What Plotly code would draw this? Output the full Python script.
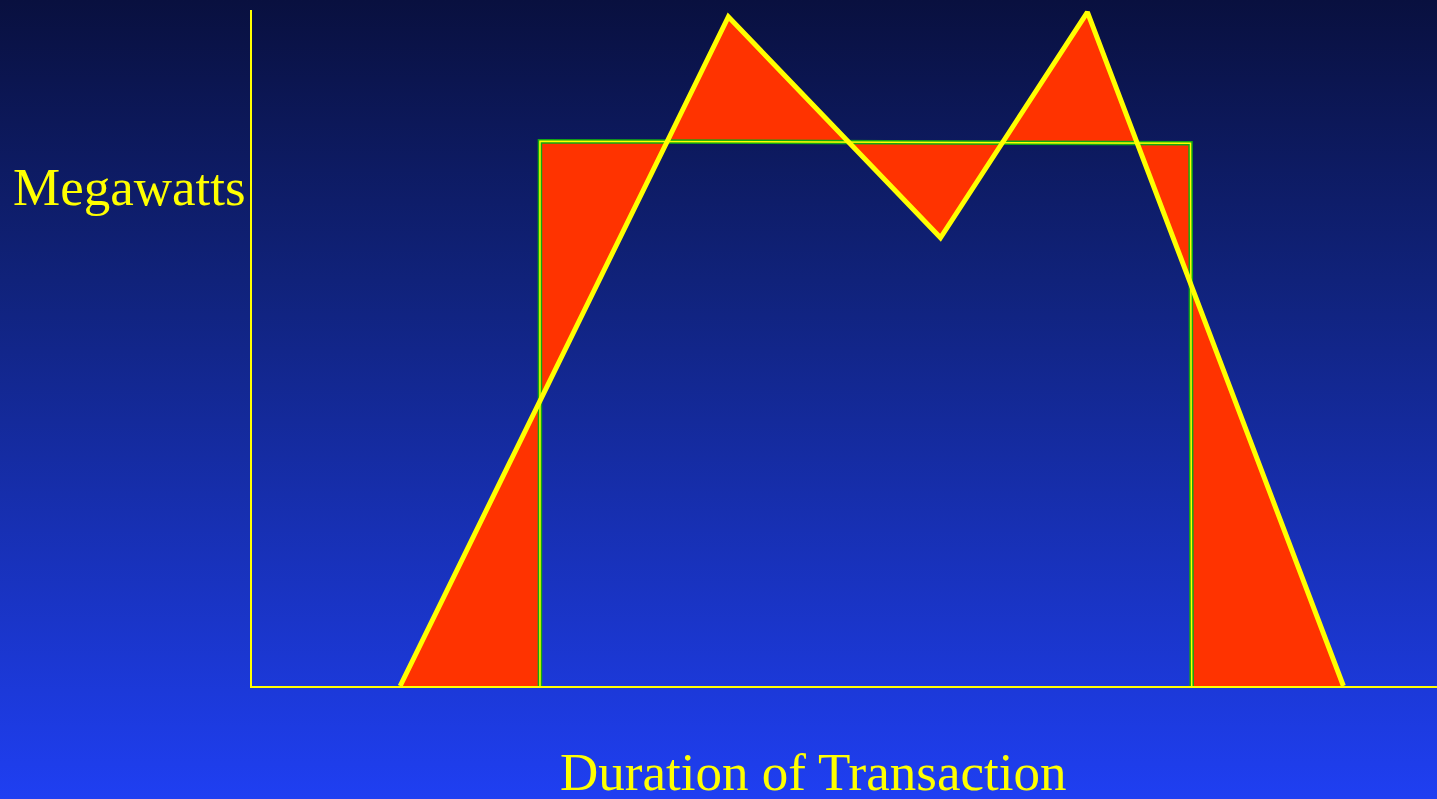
import base64

import plotly.graph_objects as go

# Scheduled transaction (block) and actual delivery profile, in % of axis range
sched_x = [24.3, 24.3, 79.2, 79.3]
sched_y = [0, 80.6, 80.3, 0]

actual_x = [12.5, 40.2, 58.1, 70.5, 92.1]
actual_y = [0, 99.0, 66.3, 99.7, 0]

x_title = "Duration of Transaction"
y_title = "Megawatts"

YELLOW = "#ffff00"
RED = "#ff3300"
GREEN = "#12a812"
FONT = "Liberation Serif, Times New Roman, serif"

W, H = 1437, 799
L, R, T, B = 252, 0, 10, 113

# Gradient background as an inline SVG image
svg = (
    '<svg xmlns="http://www.w3.org/2000/svg" width="100" height="100" preserveAspectRatio="none">'
    '<defs><linearGradient id="g" x1="0" y1="0" x2="0" y2="1">'
    '<stop offset="0" stop-color="#09103f"/>'
    '<stop offset="0.35" stop-color="#10227a"/>'
    '<stop offset="1" stop-color="#1f3ff2"/>'
    '</linearGradient></defs><rect width="100" height="100" fill="url(#g)"/></svg>'
)
bg_src = "data:image/svg+xml;base64," + base64.b64encode(svg.encode()).decode()

fig = go.Figure()

# Red areas = symmetric difference of the two shapes (opposite winding)
fill_x = actual_x + [actual_x[0], None] + sched_x[::-1] + [sched_x[-1]]
fill_y = actual_y + [actual_y[0], None] + sched_y[::-1] + [sched_y[-1]]
fig.add_trace(go.Scatter(
    x=fill_x, y=fill_y, mode="lines", fill="toself", fillcolor=RED,
    line=dict(width=0), hoverinfo="skip", showlegend=False,
))

# scheduled block: green outline with a thin yellow inner stroke
fig.add_trace(go.Scatter(
    x=sched_x, y=sched_y, mode="lines",
    line=dict(color=GREEN, width=4.5), hoverinfo="skip", showlegend=False,
))
fig.add_trace(go.Scatter(
    x=sched_x, y=sched_y, mode="lines",
    line=dict(color=YELLOW, width=1.5), hoverinfo="skip", showlegend=False,
))

# actual delivery
fig.add_trace(go.Scatter(
    x=actual_x, y=actual_y, mode="lines",
    line=dict(color=YELLOW, width=5), hoverinfo="skip", showlegend=False,
))

pw = W - L - R
ph = H - T - B
fig.add_layout_image(
    source=bg_src, xref="paper", yref="paper",
    x=-L / pw, y=1 + T / ph, sizex=W / pw, sizey=H / ph,
    xanchor="left", yanchor="top", sizing="stretch", layer="below",
)

fig.add_annotation(
    text=y_title, xref="paper", yref="paper",
    x=-4 / pw, y=(H - B - 187) / ph,
    xanchor="right", yanchor="middle", showarrow=False,
    font=dict(family=FONT, size=53, color=YELLOW),
)
fig.add_annotation(
    text=x_title, xref="paper", yref="paper",
    x=(813 - L) / pw, y=(H - B - 772) / ph,
    xanchor="center", yanchor="middle", showarrow=False,
    font=dict(family=FONT, size=53, color=YELLOW),
)

axis_style = dict(
    showline=True, linecolor=YELLOW, linewidth=2,
    showgrid=False, zeroline=False, showticklabels=False, ticks="",
    range=[0, 100], fixedrange=True,
)
fig.update_xaxes(**axis_style)
fig.update_yaxes(**axis_style)

fig.update_layout(
    width=W, height=H,
    margin=dict(l=L, r=R, t=T, b=B),
    paper_bgcolor="#10227a",
    plot_bgcolor="rgba(0,0,0,0)",
    showlegend=False,
    hovermode=False,
)

# drop the default page margin so the figure sits at the window corner
fig.write_html(
    "out.html",
    config={"displayModeBar": False},
    post_script="document.body.style.margin='0';document.body.style.overflow='hidden';",
)
